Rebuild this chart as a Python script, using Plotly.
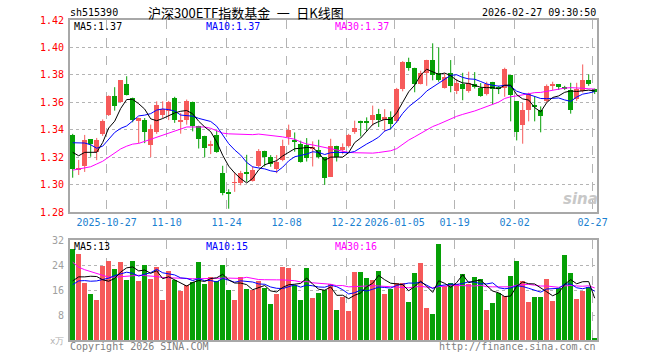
import plotly.graph_objects as go

# ---------------- data ----------------
opens = [1.336, 1.311, 1.3134, 1.3332, 1.3239, 1.3368, 1.351, 1.3649, 1.3602, 1.3737,
         1.3634, 1.3461, 1.3473, 1.3285, 1.338, 1.351, 1.354, 1.3634, 1.346, 1.3473,
         1.360, 1.3429, 1.3356, 1.3282, 1.336, 1.3088, 1.2941, 1.3012, 1.3015, 1.3085,
         1.3029, 1.3132, 1.3247, 1.320, 1.3115, 1.3176, 1.3347, 1.3327, 1.3298, 1.329,
         1.3261, 1.3249, 1.320, 1.3058, 1.3283, 1.3254, 1.3278, 1.3381, 1.3466, 1.3461,
         1.3473, 1.3517, 1.3468, 1.3493, 1.3461, 1.370, 1.3893, 1.3852, 1.3737, 1.3815,
         1.3908, 1.3815, 1.3706, 1.3815, 1.3681, 1.3735, 1.3681, 1.3737, 1.3706, 1.3657,
         1.3749, 1.371, 1.3706, 1.3796, 1.3608, 1.3437, 1.3547, 1.3576, 1.3542, 1.3608,
         1.372, 1.373, 1.3706, 1.3693, 1.3625, 1.3681, 1.3766, 1.3698]
highs = [1.337, 1.318, 1.3362, 1.3332, 1.334, 1.3475, 1.365, 1.371, 1.376, 1.379,
         1.3634, 1.3488, 1.3485, 1.3437, 1.3607, 1.3607, 1.361, 1.364, 1.3522, 1.362,
         1.3605, 1.3429, 1.3356, 1.332, 1.3393, 1.3137, 1.2966, 1.3088, 1.310, 1.3217,
         1.3132, 1.3259, 1.3247, 1.3215, 1.3215, 1.3327, 1.3437, 1.338, 1.332, 1.3339,
         1.3315, 1.3327, 1.320, 1.3334, 1.3283, 1.330, 1.337, 1.3466, 1.3466, 1.349,
         1.3576, 1.3552, 1.355, 1.3534, 1.3705, 1.390, 1.3925, 1.3852, 1.383, 1.391,
         1.403, 1.400, 1.381, 1.3908, 1.377, 1.3815, 1.3823, 1.382, 1.374, 1.375,
         1.3749, 1.372, 1.3852, 1.3796, 1.3608, 1.3595, 1.367, 1.3643, 1.357, 1.373,
         1.375, 1.3733, 1.372, 1.3742, 1.3742, 1.3876, 1.3803, 1.370]
lows = [1.305, 1.307, 1.3092, 1.3203, 1.3178, 1.3355, 1.350, 1.3539, 1.360, 1.365,
        1.3454, 1.3302, 1.3302, 1.320, 1.337, 1.3485, 1.347, 1.345, 1.3371, 1.3437,
        1.3388, 1.3263, 1.320, 1.3222, 1.3232, 1.2922, 1.2824, 1.2947, 1.2995, 1.302,
        1.3022, 1.3125, 1.3132, 1.313, 1.3083, 1.317, 1.329, 1.324, 1.316, 1.3168,
        1.3132, 1.319, 1.2998, 1.3055, 1.3168, 1.322, 1.327, 1.337, 1.3351, 1.339,
        1.343, 1.342, 1.3388, 1.3403, 1.345, 1.368, 1.383, 1.3673, 1.373, 1.372,
        1.376, 1.375, 1.370, 1.3673, 1.366, 1.3615, 1.367, 1.370, 1.364, 1.365,
        1.3583, 1.366, 1.364, 1.3461, 1.3322, 1.3298, 1.3461, 1.3461, 1.3381, 1.360,
        1.369, 1.369, 1.369, 1.3517, 1.361, 1.3672, 1.372, 1.366]
closes = [1.311, 1.312, 1.3325, 1.3296, 1.3325, 1.3467, 1.3648, 1.3576, 1.3759, 1.3651,
          1.3473, 1.3488, 1.338, 1.3405, 1.3583, 1.3551, 1.360, 1.3473, 1.3465, 1.3612,
          1.3429, 1.333, 1.3266, 1.3292, 1.3238, 1.2942, 1.2935, 1.3015, 1.3088, 1.308,
          1.3107, 1.3247, 1.320, 1.3151, 1.3168, 1.3278, 1.3395, 1.3315, 1.3168, 1.3197,
          1.3273, 1.320, 1.3047, 1.3283, 1.320, 1.3271, 1.3364, 1.3413, 1.3449, 1.3456,
          1.351, 1.3468, 1.3493, 1.3444, 1.370, 1.3893, 1.3852, 1.3737, 1.3815, 1.3908,
          1.3796, 1.3761, 1.3786, 1.3717, 1.3742, 1.370, 1.3742, 1.3713, 1.3649, 1.373,
          1.370, 1.3698, 1.3845, 1.3652, 1.3381, 1.3547, 1.3657, 1.3569, 1.3498, 1.3717,
          1.3735, 1.3713, 1.3701, 1.3547, 1.3698, 1.3759, 1.3737, 1.3675]
volumes = [29.05, 27.6, 18.3, 14.5, 12.6, 23.8, 25.3, 22.7, 24.9, 19.3,
           25.3, 18.9, 24.1, 19.6, 23.4, 12.6, 21.9, 19.2, 15.5, 17.5,
           18.5, 24.9, 17.7, 20.2, 18.7, 24.1, 15.9, 12.7, 20.1, 16.2,
           15.9, 18.7, 16.7, 11.4, 14.5, 23.3, 22.9, 17.6, 12.7, 23.1,
           13.4, 14.8, 16.0, 18.0, 9.6, 13.6, 9.2, 21.6, 21.6, 19.7,
           19.1, 21.9, 14.5, 16.1, 18.3, 18.3, 12.0, 21.3, 24.7, 10.2,
           8.3, 30.7, 17.2, 18.3, 17.7, 21.2, 17.7, 20.0, 19.6, 9.6,
           11.8, 14.8, 14.0, 20.5, 25.3, 18.7, 12.0, 13.6, 13.6, 19.6,
           12.3, 16.6, 27.3, 21.3, 12.9, 15.6, 16.8, 0.6]

# moving-average values before enough visible history exists
ma5_head = [1.3235, 1.321, 1.3235, 1.3235]
ma10_head = [1.3305, 1.3305, 1.3303, 1.329, 1.3265, 1.328, 1.333, 1.338, 1.341]
ma30_head = [1.3105, 1.3112, 1.312, 1.313, 1.315, 1.317, 1.320, 1.323, 1.326, 1.328,
             1.3295, 1.330, 1.3315, 1.333, 1.335, 1.3365, 1.3375, 1.339, 1.341, 1.342,
             1.342, 1.342, 1.342, 1.341, 1.339, 1.3375, 1.337, 1.3368, 1.3366]
vma5_head = [19.0, 20.3, 20.3, 20.5]
vma10_head = [17.8, 19.0, 19.1, 18.9, 19.0, 19.4, 19.9, 20.7, 21.3]
vma30_head = [25.0, 23.4, 22.6, 22.0, 21.2, 20.6, 20.2, 20.2, 20.4, 20.6,
              20.8, 20.8, 20.7, 20.6, 20.4, 20.1, 20.0, 19.8, 19.7, 19.7,
              19.7, 19.7, 19.8, 19.9, 19.9, 19.9, 19.9, 19.9, 19.8]

tick_index = [6, 16, 26, 36, 46, 54, 64, 74, 87]
tick_labels = ["2025-10-27", "11-10", "11-24", "12-08", "12-22", "2026-01-05",
               "01-19", "02-02", "02-27"]
price_ticks = [1.28, 1.30, 1.32, 1.34, 1.36, 1.38, 1.40, 1.42]
vol_ticks = [8, 16, 24, 32]

code = "sh515390"
title = "沪深300ETF指数基金\u2002一\u2002日K线图"
stamp = "2026-02-27 09:30:50"
ma_labels = ["MA5:1.37", "MA10:1.37", "MA30:1.37"]
vma_labels = ["MA5:13", "MA10:15", "MA30:16"]

# ---------------- styles ----------------
RED = "#f65a5a"
GREEN = "#06a006"
GRID = "#b4b4b4"
FRAME = "#a8a8a8"
MONO = "DejaVu Sans Mono, Liberation Mono, monospace"
CJK = "Noto Sans CJK SC, sans-serif"
GRID_SHIFT = -0.35
MIN_BODY = 0.0006


def moving(vals, n, head):
    out = list(head)
    for i in range(n - 1, len(vals)):
        out.append(sum(vals[i - n + 1:i + 1]) / n)
    return out


idx = list(range(len(closes)))
up = [c >= o for o, c in zip(opens, closes)]
colors = [RED if u else GREEN for u in up]

fig = go.Figure()

# wicks
for flag, col in ((True, RED), (False, GREEN)):
    wx, wy = [], []
    for i in idx:
        if up[i] == flag:
            wx += [i, i, None]
            wy += [lows[i], highs[i], None]
    fig.add_trace(go.Scatter(x=wx, y=wy, mode="lines", line=dict(color=col, width=1),
                             hoverinfo="skip", xaxis="x", yaxis="y"))

# bodies
fig.add_trace(go.Bar(
    x=idx,
    base=[min(o, c) for o, c in zip(opens, closes)],
    y=[max(abs(c - o), MIN_BODY) for o, c in zip(opens, closes)],
    marker=dict(color=colors, line=dict(width=0)), width=0.82,
    xaxis="x", yaxis="y"))

# price MAs
for n, head, col in ((30, ma30_head, "#ff00ff"), (10, ma10_head, "#0000ff"), (5, ma5_head, "#000000")):
    fig.add_trace(go.Scatter(x=idx, y=moving(closes, n, head), mode="lines",
                             line=dict(color=col, width=1), xaxis="x", yaxis="y"))

# volume
fig.add_trace(go.Bar(x=idx, y=volumes, marker=dict(color=colors, line=dict(width=0)),
                     width=0.82, xaxis="x2", yaxis="y2"))
for n, head, col in ((30, vma30_head, "#ff00ff"), (10, vma10_head, "#0000ff"), (5, vma5_head, "#000000")):
    fig.add_trace(go.Scatter(x=idx, y=moving(volumes, n, head), mode="lines",
                             line=dict(color=col, width=1), xaxis="x2", yaxis="y2"))

L, R, T, B = 70, 63, 20, 20
W, H = 660, 360
PW, PH = W - L - R, H - T - B


def px(x):
    return (x - L) / PW


def py(y):
    return (H - B - y) / PH


xr = [-0.45, -0.45 + PW / 6.0]
tickpos = [t + GRID_SHIFT for t in tick_index]

common_x = dict(range=xr, tickvals=tickpos, showgrid=True, gridcolor=GRID, griddash="dash",
                gridwidth=1, zeroline=False, showline=True, mirror=True, linecolor=FRAME,
                linewidth=2, ticks="", fixedrange=True)

fig.update_layout(
    width=W, height=H, margin=dict(l=L, r=R, t=T, b=B),
    paper_bgcolor="white", plot_bgcolor="white", showlegend=False, bargap=0,
    xaxis=dict(**common_x, anchor="y", ticktext=tick_labels, showticklabels=True,
               tickfont=dict(family=MONO, size=10, color="#1a80d0")),
    xaxis2=dict(**common_x, anchor="y2", showticklabels=False),
    yaxis=dict(domain=[0.4, 1.0], range=[price_ticks[0], price_ticks[-1]], tickvals=price_ticks,
               ticktext=["%.2f" % v for v in price_ticks], showgrid=True, gridcolor=GRID,
               griddash="dot", zeroline=False, showline=True, mirror=True, linecolor=FRAME,
               linewidth=2, ticks="", ticklabelstandoff=2,
               tickfont=dict(family=MONO, size=10, color="#ff0000")),
    yaxis2=dict(domain=[0.0, 0.311], range=[0, 32], tickvals=vol_ticks,
                ticktext=[str(v) for v in vol_ticks], showgrid=True, gridcolor=GRID,
                griddash="dot", zeroline=False, showline=True, mirror=True, linecolor=FRAME,
                linewidth=2, ticks="", ticklabelstandoff=2,
                tickfont=dict(family=MONO, size=10, color="#a0a0a0")),
)

ann = []


def add(text, x, y, xanchor="left", color="#000", size=10, family=MONO, **kw):
    ann.append(dict(text=text, x=px(x), y=py(y), xref="paper", yref="paper",
                    xanchor=xanchor, yanchor="middle", showarrow=False,
                    font=dict(family=family, size=size, color=color), **kw))


add(code, 68, 13)
add(title, 246, 12, xanchor="center", size=13, family=CJK)
add(stamp, 598, 13, xanchor="right")
for lab, x, col in zip(ma_labels, (72, 204, 333), ("#000000", "#0000ff", "#ff00ff")):
    add(lab, x, 27, color=col)
for lab, x, col in zip(vma_labels, (72, 204, 333), ("#000000", "#0000ff", "#ff00ff")):
    add(lab, x, 246, color=col)
add("x万", 48, 341, color="#b0b0b0", size=9)
add("Copyright 2026 SINA.COM", 68, 346, color="#808080")
add("http://finance.sina.com.cn", 598, 346, xanchor="right", color="#808080")
add("<b><i>sina</i></b>", 580, 199, xanchor="center", color="#c8c8c8", size=15,
    family="DejaVu Sans, sans-serif")
fig.update_layout(annotations=ann)

fig.write_html("out.html")
